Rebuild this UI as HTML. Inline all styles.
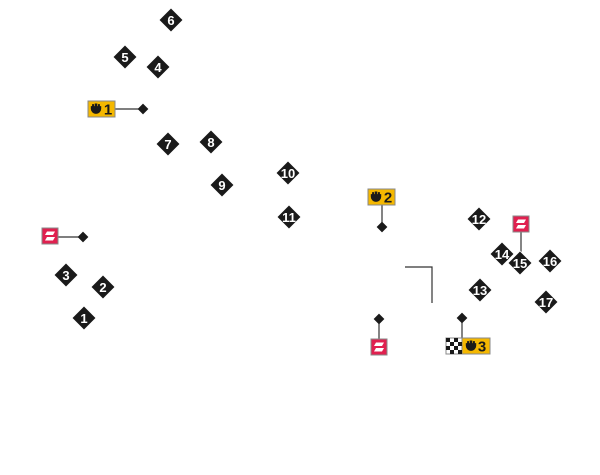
<!DOCTYPE html>
<html><head><style>
html,body{margin:0;padding:0;background:#fff;width:600px;height:475px;overflow:hidden}
svg{display:block}
.n text{font-family:"Liberation Sans",sans-serif;font-size:13px;font-weight:bold;fill:#fff;text-anchor:middle}
</style></head><body>
<svg width="600" height="475" viewBox="0 0 600 475" xmlns="http://www.w3.org/2000/svg">
<defs>
<g id="d"><rect x="-8.5" y="-8.5" width="17" height="17" fill="#1a1a1a" stroke="#fff" stroke-width="0.8" transform="rotate(45)"/></g>
<g id="sd"><rect x="-3.8" y="-3.8" width="7.6" height="7.6" fill="#1a1a1a" transform="rotate(45)"/></g>
<g id="red"><rect x="0" y="0" width="16" height="16" fill="#e0204f" stroke="#888" stroke-width="1"/>
<polygon points="5,3.5 13,3.5 11,7 3,7" fill="#fff"/><polygon points="5,9 13,9 11,12.5 3,12.5" fill="#fff"/></g>
<g id="cup"><path d="M-4,-3 h8 v2 a4,4 0 0 1 -8,0 z M-3,-4.5 h1.5 v1.5 h-1.5z M1.5,-4.5 h1.5 v1.5 h-1.5z M-1,-5 h2 v2 h-2z" fill="#1a1a1a" transform="scale(1.3)"/></g>
</defs>
<g stroke="#333" stroke-width="1.2" fill="none">
<line x1="115" y1="109" x2="143" y2="109"/>
<line x1="58" y1="237" x2="83" y2="237"/>
<line x1="382" y1="205" x2="382" y2="227"/>
<line x1="521" y1="232" x2="521" y2="252"/>
<line x1="379" y1="319" x2="379" y2="339"/>
<line x1="462" y1="318" x2="462" y2="338"/>
<polyline points="405,267 432,267 432,303"/>
</g>
<use href="#sd" x="143" y="109"/><use href="#sd" x="83" y="237"/><use href="#sd" x="382" y="227"/>
<use href="#sd" x="379" y="319"/><use href="#sd" x="462" y="318"/>
<g>
<rect x="88" y="101" width="27" height="16" fill="#f5b800" stroke="#888"/>
<use href="#cup" x="96" y="110"/>
<text x="108" y="114.5" font-family="Liberation Sans,sans-serif" font-size="15" font-weight="bold" fill="#1a1a1a" text-anchor="middle">1</text>
<rect x="368" y="189" width="27" height="16" fill="#f5b800" stroke="#888"/>
<use href="#cup" x="376" y="198"/>
<text x="388" y="202.5" font-family="Liberation Sans,sans-serif" font-size="15" font-weight="bold" fill="#1a1a1a" text-anchor="middle">2</text>
<rect x="462" y="338" width="28" height="16" fill="#f5b800" stroke="#888"/>
<use href="#cup" x="471" y="347"/>
<text x="482" y="351.5" font-family="Liberation Sans,sans-serif" font-size="15" font-weight="bold" fill="#1a1a1a" text-anchor="middle">3</text>
<rect x="446" y="338" width="16" height="16" fill="#fff" stroke="#888"/>
<g fill="#1a1a1a">
<rect x="446" y="338" width="4" height="4"/><rect x="454" y="338" width="4" height="4"/>
<rect x="450" y="342" width="4" height="4"/><rect x="458" y="342" width="4" height="4"/>
<rect x="446" y="346" width="4" height="4"/><rect x="454" y="346" width="4" height="4"/>
<rect x="450" y="350" width="4" height="4"/><rect x="458" y="350" width="4" height="4"/>
</g>
</g>
<use href="#red" x="42" y="228"/><use href="#red" x="513" y="216"/><use href="#red" x="371" y="339"/>
<g class="n">
<g transform="translate(171,20)"><use href="#d"/><text y="5">6</text></g>
<g transform="translate(125,57)"><use href="#d"/><text y="5">5</text></g>
<g transform="translate(158,67)"><use href="#d"/><text y="5">4</text></g>
<g transform="translate(168,144)"><use href="#d"/><text y="5">7</text></g>
<g transform="translate(211,142)"><use href="#d"/><text y="5">8</text></g>
<g transform="translate(222,185)"><use href="#d"/><text y="5">9</text></g>
<g transform="translate(288,173)"><use href="#d"/><text y="5">10</text></g>
<g transform="translate(289,217)"><use href="#d"/><text y="5">11</text></g>
<g transform="translate(479,219)"><use href="#d"/><text y="5">12</text></g>
<g transform="translate(480,290)"><use href="#d"/><text y="5">13</text></g>
<g transform="translate(502,254)"><use href="#d"/><text y="5">14</text></g>
<g transform="translate(520,263)"><use href="#d"/><text y="5">15</text></g>
<g transform="translate(550,261)"><use href="#d"/><text y="5">16</text></g>
<g transform="translate(546,302)"><use href="#d"/><text y="5">17</text></g>
<g transform="translate(66,275)"><use href="#d"/><text y="5">3</text></g>
<g transform="translate(103,287)"><use href="#d"/><text y="5">2</text></g>
<g transform="translate(84,318)"><use href="#d"/><text y="5">1</text></g>
</g>
</svg>
</body></html>
